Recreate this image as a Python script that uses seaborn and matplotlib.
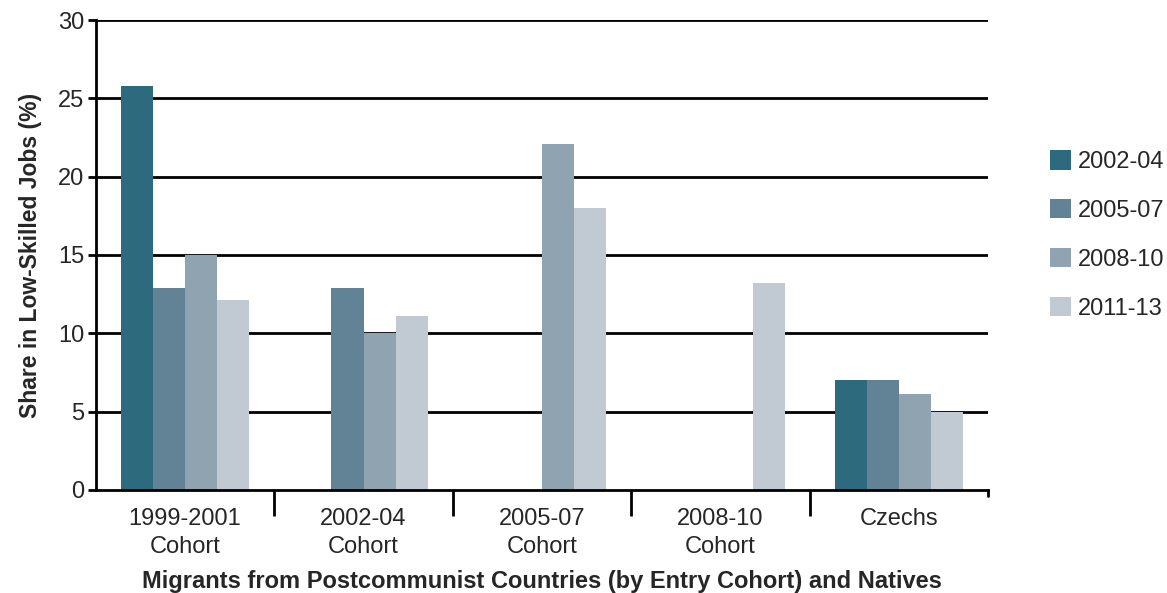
import matplotlib
matplotlib.use('Agg')
import matplotlib.pyplot as plt
import numpy as np
import pandas as pd
import seaborn as sns

groups = ['1999-2001\nCohort', '2002-04\nCohort', '2005-07\nCohort', '2008-10\nCohort', 'Czechs']
periods = ['2002-04', '2005-07', '2008-10', '2011-13']
v_2002_04 = [25.8, np.nan, np.nan, np.nan, 7.0]
v_2005_07 = [12.9, 12.9, np.nan, np.nan, 7.0]
v_2008_10 = [15.0, 10.0, 22.1, np.nan, 6.1]
v_2011_13 = [12.1, 11.1, 18.0, 13.2, 5.0]
colors = ['#2e6a7d', '#628295', '#8fa3b1', '#c1c9d2']

rows = []
for p, vals in zip(periods, [v_2002_04, v_2005_07, v_2008_10, v_2011_13]):
    for g, v in zip(groups, vals):
        rows.append({'group': g, 'period': p, 'value': v})
df = pd.DataFrame(rows)

sns.set_style('white')
plt.rcParams['font.family'] = ['Liberation Sans', 'DejaVu Sans']

fig, ax = plt.subplots(figsize=(11.67, 5.93), dpi=100)
fig.subplots_adjust(left=0.082, right=0.847, top=0.966, bottom=0.174)

# grid lines drawn first so bars cover them
for y in range(5, 31, 5):
    ax.axhline(y, color='black', lw=2, zorder=0)

sns.barplot(data=df, x='group', y='value', hue='period', hue_order=periods,
            order=groups, palette=colors, width=0.72, saturation=1,
            linewidth=0, ax=ax, zorder=2)

ax.set_ylim(0, 30)
ax.set_xlim(-0.5, 4.5)
ax.set_yticks(range(0, 31, 5))
ax.tick_params(axis='y', left=True, labelsize=17, length=6, width=2, color='black', pad=2)
ax.tick_params(axis='x', which='major', bottom=True, labelsize=17, length=0, pad=13)
ax.set_xticks([0.5, 1.5, 2.5, 3.5], minor=True)
ax.tick_params(axis='x', which='minor', bottom=True, length=19, width=2, color='black')
for lab in ax.get_xticklabels():
    lab.set_linespacing(1.35)
# short tick at the right end of the axis
ax.axvline(4.5, ymin=-0.014, ymax=0, color='black', lw=2, clip_on=False)

for s in ['top', 'right']:
    ax.spines[s].set_visible(False)
for s in ['left', 'bottom']:
    ax.spines[s].set_color('black')
    ax.spines[s].set_linewidth(2)

ax.set_xlabel('Migrants from Postcommunist Countries (by Entry Cohort) and Natives',
              fontsize=17, fontweight='bold', labelpad=9)
ax.set_ylabel('Share in Low-Skilled Jobs (%)', fontsize=16.5, fontweight='bold', labelpad=12)

ax.legend(loc='center left', bbox_to_anchor=(1.045, 0.543), frameon=False,
          fontsize=17, handlelength=0.9, handleheight=0.9, labelspacing=1.1,
          handletextpad=0.3)

plt.savefig('out.png', dpi=100)
